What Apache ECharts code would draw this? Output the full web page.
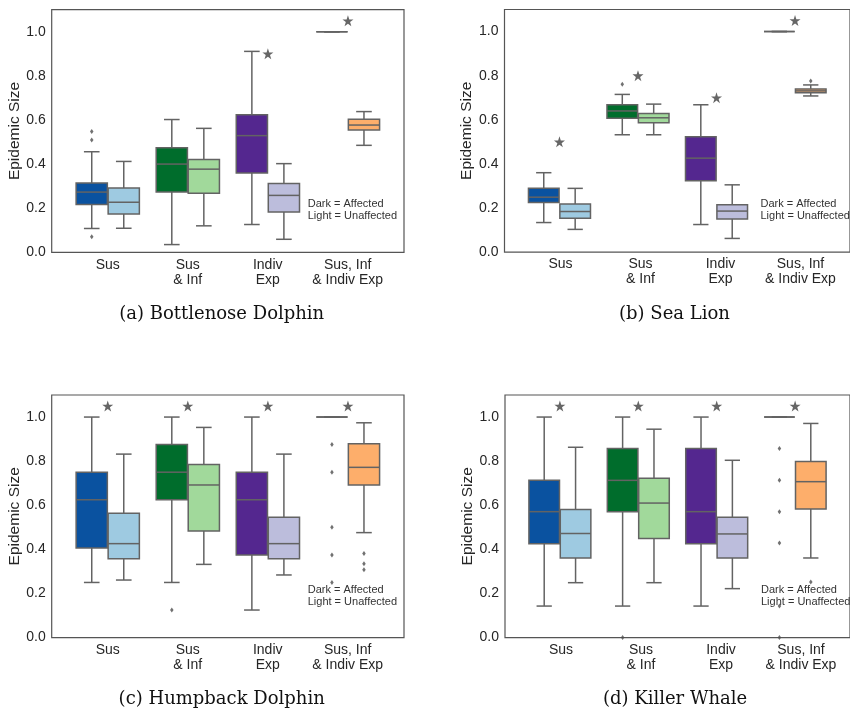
<!DOCTYPE html>
<html>
<head>
<meta charset="utf-8">
<script src="https://cdn.jsdelivr.net/npm/echarts@6/dist/echarts.min.js"></script>
<style>html,body{margin:0;padding:0;background:#fff}#c{width:850px;height:715px}</style>
</head>
<body>
<div id="c"></div>
<script>
// ---- data ----
const categories = ['Sus', 'Sus\n& Inf', 'Indiv\nExp', 'Sus, Inf\n& Indiv Exp'];
// each box: [low whisker, Q1, median, Q3, high whisker]
const dolphinAffected   = [[0.108,0.217,0.273,0.314,0.456],[0.035,0.273,0.400,0.474,0.602],[0.126,0.359,0.529,0.624,0.911],[1,1,1,1,1]];
const dolphinUnaffected = [[0.109,0.174,0.227,0.291,0.412],[0.120,0.268,0.377,0.421,0.562],[0.059,0.183,0.258,0.312,0.402],[0.485,0.555,0.577,0.603,0.638]];
const dolphinOutliers   = [[0,0,0.548],[0,0,0.509],[0,0,0.070]]; // [group, hue(0 dark/1 light), value]
const dolphinStars      = [[2,0.90],[3,1.05]];

const seaLionAffected   = [[0.134,0.225,0.249,0.289,0.360],[0.532,0.607,0.640,0.668,0.715],[0.125,0.323,0.426,0.523,0.668],[1,1,1,1,1]];
const seaLionUnaffected = [[0.103,0.154,0.184,0.218,0.289],[0.532,0.586,0.609,0.628,0.671],[0.062,0.150,0.186,0.215,0.305],[0.708,0.722,0.731,0.740,0.758]];
const seaLionOutliers   = [[1,0,0.761],[3,1,0.776]];
const seaLionStars      = [[0,0.50],[1,0.80],[2,0.70],[3,1.05]];

const humpbackAffected   = [[0.250,0.406,0.625,0.750,1.0],[0.250,0.625,0.750,0.875,1.0],[0.125,0.375,0.625,0.750,1.0],[1,1,1,1,1]];
const humpbackUnaffected = [[0.261,0.357,0.426,0.564,0.832],[0.332,0.483,0.692,0.785,0.953],[0.284,0.357,0.426,0.546,0.832],[0.476,0.692,0.772,0.879,0.974]];
const humpbackOutliers   = [[1,0,0.125],[3,0,0.875],[3,0,0.750],[3,0,0.500],[3,0,0.375],[3,0,0.250],[3,1,0.381],[3,1,0.335],[3,1,0.308]];
const humpbackStars      = [[0,1.05],[1,1.05],[2,1.05],[3,1.05]];

const killerAffected   = [[0.143,0.426,0.571,0.713,1.0],[0.143,0.571,0.713,0.857,1.0],[0.143,0.426,0.571,0.857,1.0],[1,1,1,1,1]];
const killerUnaffected = [[0.249,0.361,0.472,0.581,0.863],[0.249,0.449,0.610,0.722,0.945],[0.222,0.361,0.470,0.546,0.804],[0.361,0.583,0.707,0.798,0.971]];
const killerOutliers   = [[1,0,0.0],[3,0,0.857],[3,0,0.714],[3,0,0.571],[3,0,0.429],[3,0,0.143],[3,0,0.0],[3,1,0.252]];
const killerStars      = [[0,1.05],[1,1.05],[2,1.05],[3,1.05]];

// ---- styling ----
const darkColors  = ['#0a52a0', '#006d2c', '#54278f', '#e6550d'];
const lightColors = ['#9ecae1', '#a1d99b', '#bcbddc', '#fdae6b'];
const EDGE = '#636363';
const TEXT = '#262626';
const SANS = '"Liberation Sans", Arial, sans-serif';
const STAR = 'path://M50,0 L61.8,35.3 L99,35.3 L68.9,57.3 L80.3,92.7 L50,70.8 L19.7,92.7 L31.1,57.3 L1,35.3 L38.2,35.3 Z';

const panels = [
  {aff: dolphinAffected,  un: dolphinUnaffected,  out: dolphinOutliers,  stars: dolphinStars,  caption: '(a) Bottlenose Dolphin', left: 51.7,  top: 9.7},
  {aff: seaLionAffected,  un: seaLionUnaffected,  out: seaLionOutliers,  stars: seaLionStars,  caption: '(b) Sea Lion',           left: 504.5, top: 9.5},
  {aff: humpbackAffected, un: humpbackUnaffected, out: humpbackOutliers, stars: humpbackStars, caption: '(c) Humpback Dolphin',   left: 51.7,  top: 395},
  {aff: killerAffected,   un: killerUnaffected,   out: killerOutliers,   stars: killerStars,   caption: '(d) Killer Whale',       left: 505,   top: 395}
];
const W = 352.3, H = 242.6, OFF = 0.2, BOXW = 0.39;

function renderBox(params, api) {
  const x = api.value(0);
  const low = api.coord([x, api.value(1)]);
  const q1 = api.coord([x, api.value(2)]);
  const med = api.coord([x, api.value(3)]);
  const q3 = api.coord([x, api.value(4)]);
  const high = api.coord([x, api.value(5)]);
  const g = api.value(6), hue = api.value(7);
  const w = api.size([BOXW, 0])[0];
  const cx = q1[0];
  const fill = hue === 0 ? darkColors[g] : lightColors[g];
  const ls = {stroke: EDGE, lineWidth: 1.5, fill: null};
  return {
    type: 'group',
    children: [
      {type: 'line', shape: {x1: cx, y1: q3[1], x2: cx, y2: high[1]}, style: ls},
      {type: 'line', shape: {x1: cx, y1: q1[1], x2: cx, y2: low[1]}, style: ls},
      {type: 'line', shape: {x1: cx - w / 4, y1: high[1], x2: cx + w / 4, y2: high[1]}, style: ls},
      {type: 'line', shape: {x1: cx - w / 4, y1: low[1], x2: cx + w / 4, y2: low[1]}, style: ls},
      {type: 'rect', shape: {x: cx - w / 2, y: q3[1], width: w, height: q1[1] - q3[1]}, style: {fill: fill, stroke: EDGE, lineWidth: 1.5}},
      {type: 'line', shape: {x1: cx - w / 2, y1: med[1], x2: cx + w / 2, y2: med[1]}, style: ls}
    ]
  };
}

const option = {animation: false, grid: [], xAxis: [], yAxis: [], series: [], graphic: []};

panels.forEach((p, i) => {
  const gi = 2 * i;
  option.grid.push({left: p.left, top: p.top, width: W, height: H, show: true, borderColor: '#555', borderWidth: 1.2, backgroundColor: 'transparent'});
  option.grid.push({left: p.left + 0.2 * 80, top: p.top, width: 4 * 80, height: H});
  option.xAxis.push({gridIndex: gi, type: 'value', min: -0.7, max: 3.7, show: false});
  option.xAxis.push({gridIndex: gi + 1, type: 'category', data: categories,
    axisLine: {show: false}, axisTick: {show: false}, splitLine: {show: false},
    axisLabel: {color: TEXT, fontSize: 14, fontFamily: SANS, lineHeight: 15, margin: 5, interval: 0}});
  option.yAxis.push({gridIndex: gi, type: 'value', min: 0, max: 1.1, interval: 0.2,
    name: 'Epidemic Size', nameLocation: 'middle', nameGap: 22.5,
    nameTextStyle: {color: TEXT, fontSize: 15.5, fontFamily: SANS},
    axisLine: {show: false}, axisTick: {show: false}, splitLine: {show: false},
    axisLabel: {color: TEXT, fontSize: 14, fontFamily: SANS, margin: 6, showMaxLabel: false,
      formatter: v => v.toFixed(1)}});
  option.yAxis.push({gridIndex: gi + 1, type: 'value', min: 0, max: 1, show: false});

  const boxData = p.aff.map((b, g) => [g - OFF].concat(b, [g, 0]))
    .concat(p.un.map((b, g) => [g + OFF].concat(b, [g, 1])));
  option.series.push({type: 'custom', xAxisIndex: gi, yAxisIndex: gi, renderItem: renderBox,
    encode: {x: 0, y: [1, 2, 3, 4, 5]}, data: boxData, clip: false, z: 2});
  option.series.push({type: 'scatter', xAxisIndex: gi, yAxisIndex: gi, symbol: 'diamond', symbolSize: [3.5, 5],
    itemStyle: {color: '#4d4d4d'}, clip: false, z: 3,
    data: p.out.map(o => [o[0] + (o[1] ? OFF : -OFF), o[2]])});
  option.series.push({type: 'scatter', xAxisIndex: gi, yAxisIndex: gi, symbol: STAR, symbolSize: 11,
    itemStyle: {color: '#404040'}, clip: false, z: 3,
    data: p.stars.map(s => [s[0], s[1]])});

  option.graphic.push({type: 'text', x: p.left + 256, y: p.top + 188.5, z: 10,
    style: {text: 'Dark = Affected\nLight = Unaffected', fill: '#333', fontSize: 11, fontFamily: SANS, lineHeight: 12, verticalAlign: 'top'}});
  option.graphic.push({type: 'text', x: p.left + 170, y: p.top + 304.5, z: 10,
    style: {text: p.caption, fill: '#111', fontSize: 18, fontFamily: '"DejaVu Serif", serif', align: 'center', verticalAlign: 'middle'}});
});

const chart = echarts.init(document.getElementById('c'), null, {renderer: 'canvas'});
chart.setOption(option);
</script>
</body>
</html>
